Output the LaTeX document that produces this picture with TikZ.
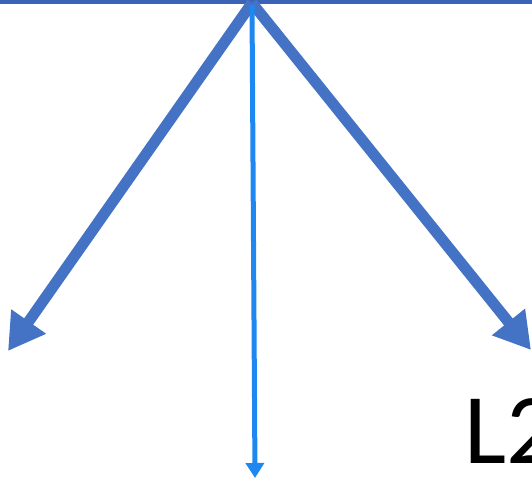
\documentclass[tikz,border=0pt]{standalone}
\usepackage{fontspec}
\setmainfont{Carlito}
\usetikzlibrary{arrows.meta}
\definecolor{topblue}{RGB}{59,100,185}
\definecolor{armblue}{RGB}{68,114,196}
\definecolor{midblue}{RGB}{30,136,240}
\tikzset{
  arm/.style={armblue,line width=11pt,-{Triangle[length=36pt,width=40pt]}},
  mid/.style={midblue,line width=5pt,-{Triangle[length=15pt,width=18pt]}}
}
\begin{document}
\begin{tikzpicture}[x=1pt,y=1pt]
  \useasboundingbox (0,0) rectangle (532,482);
  \draw[topblue,line width=3.5pt] (0,480.2) -- (532,480.2);
  \coordinate (apex) at (252,479);
  \coordinate (lefttip) at (8,131);
  \coordinate (righttip) at (531,132);
  \coordinate (midtip) at (255,4);
  \draw[arm] (apex) -- (lefttip);
  \draw[arm] (apex) -- (righttip);
  \draw[mid] (252,477) -- (midtip);
  \node[anchor=base west,inner sep=0pt,font=\fontsize{100}{100}\selectfont] (ltwo) at (464,19) {L2};
\end{tikzpicture}
\end{document}
